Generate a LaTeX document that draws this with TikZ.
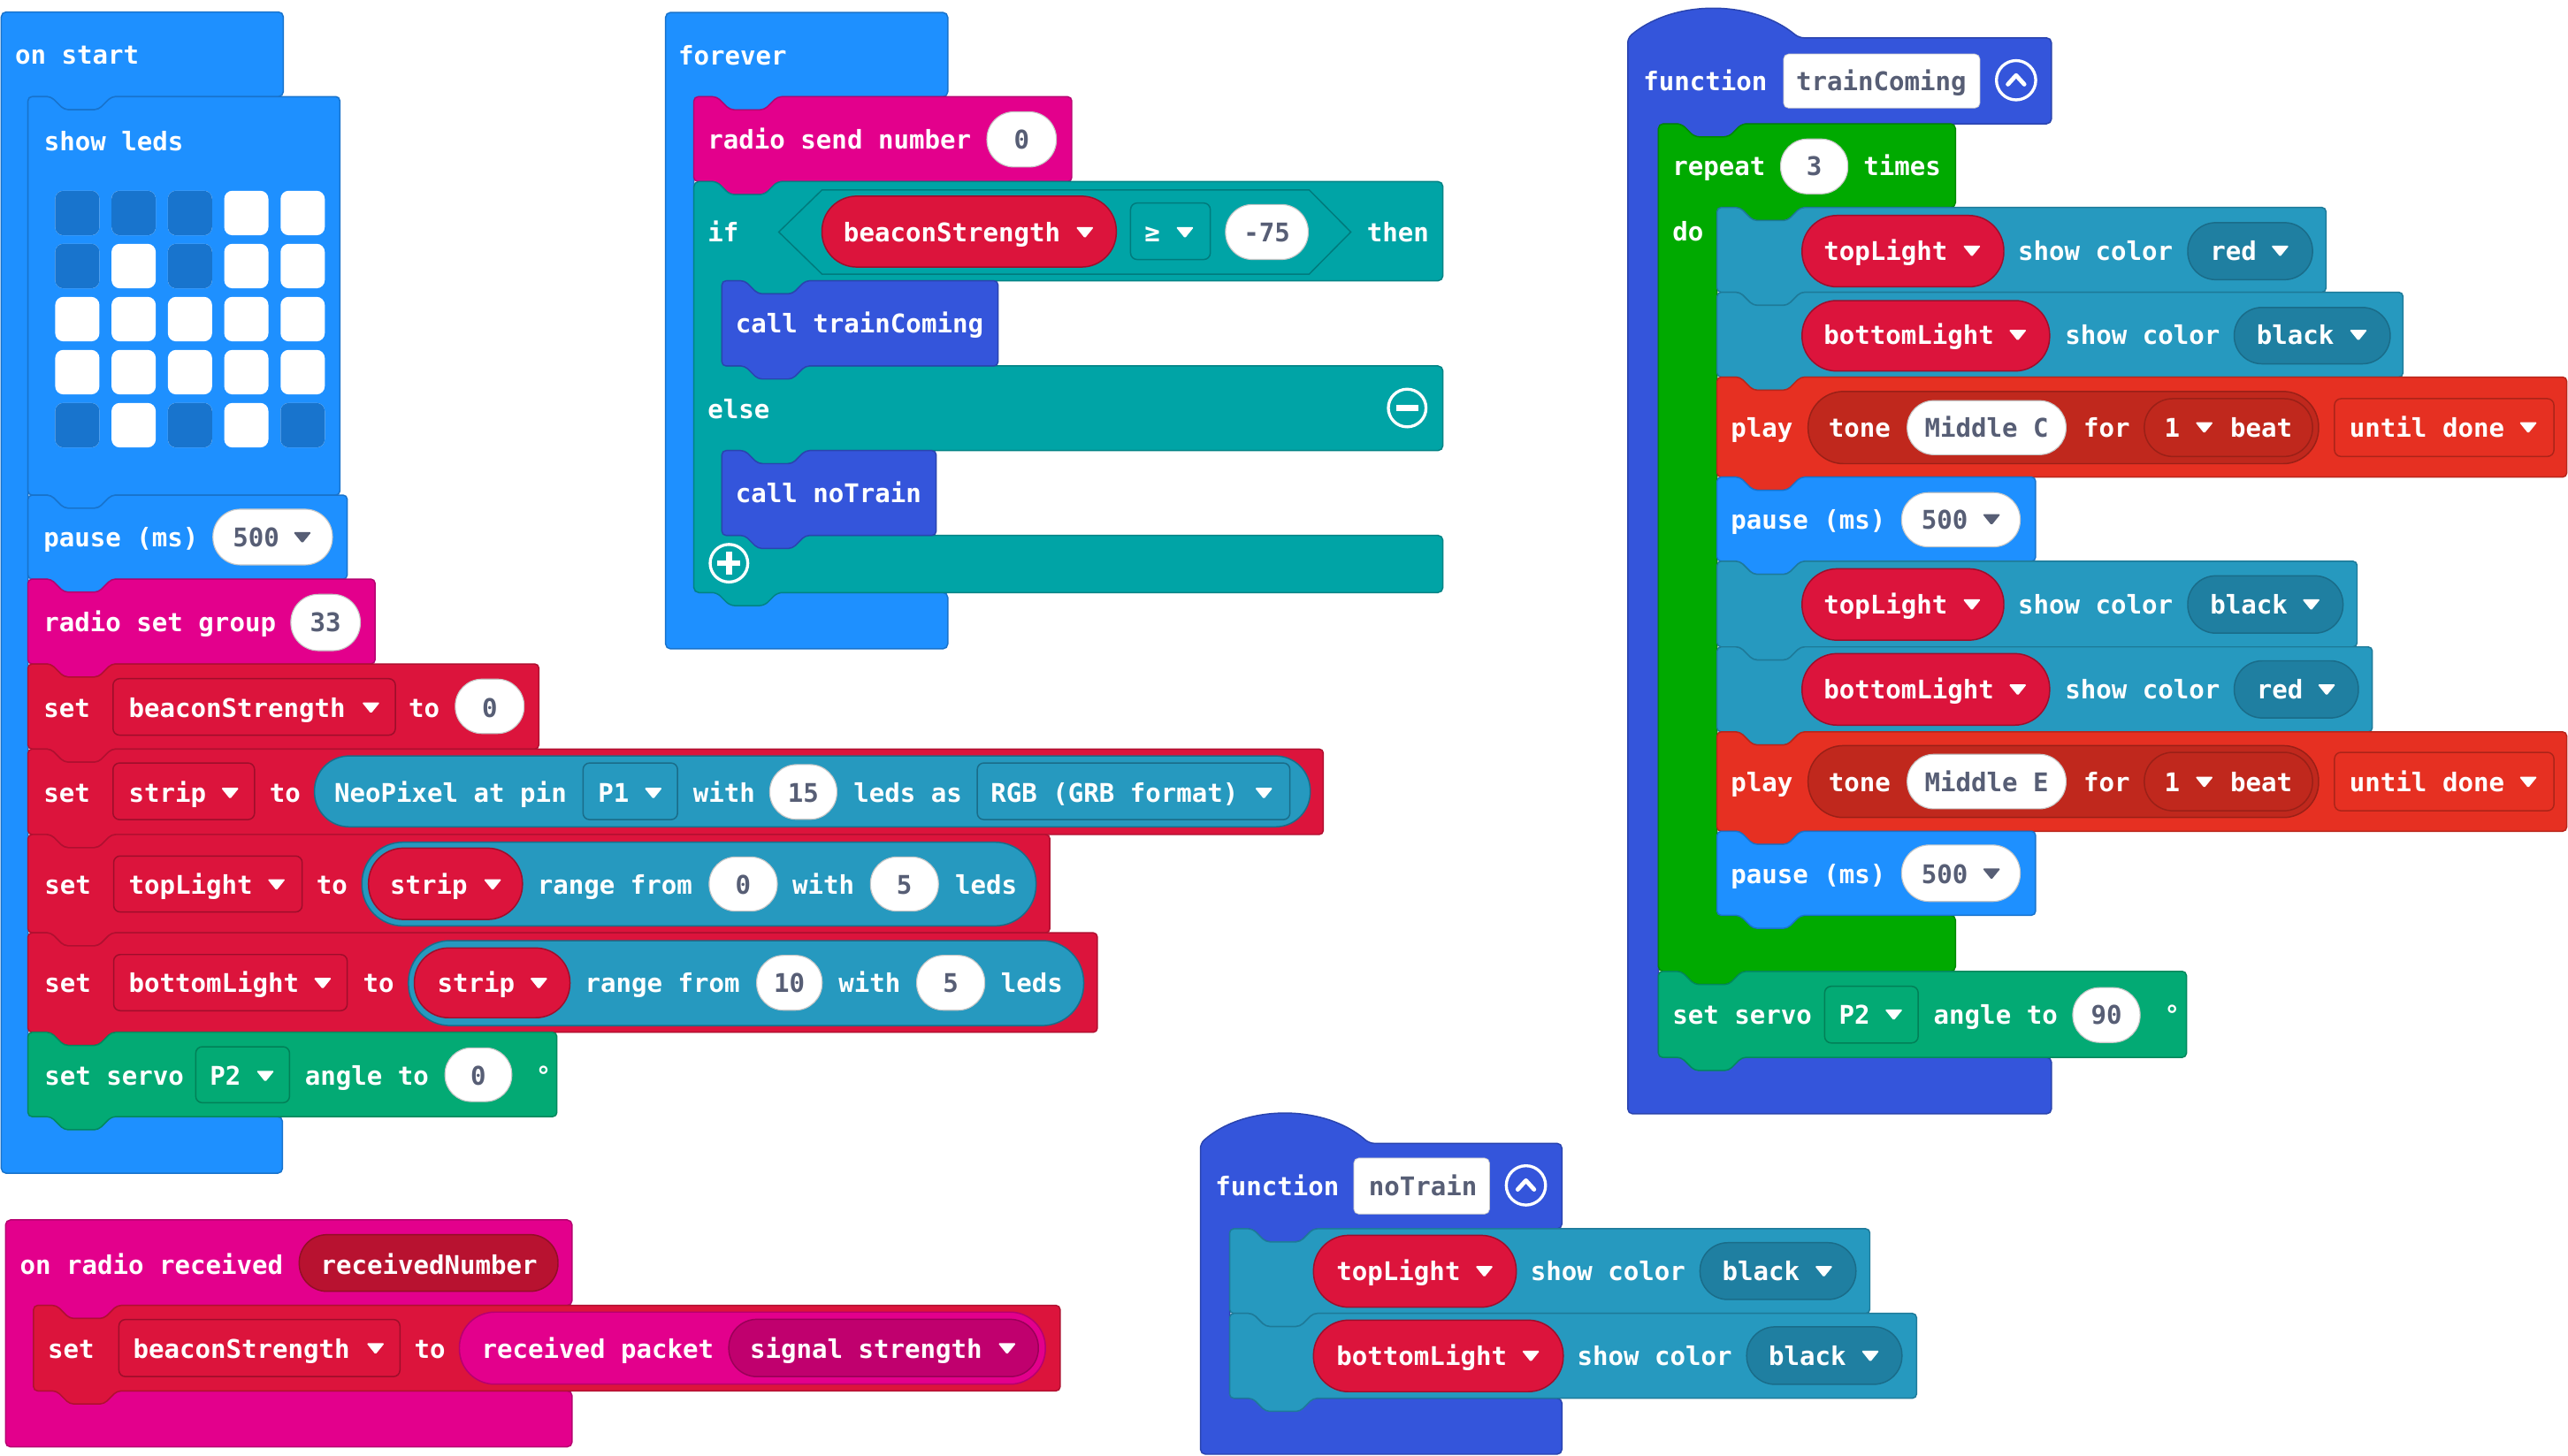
\documentclass[tikz,border=0pt]{standalone}
\usepackage{fontspec}
\setmonofont{DejaVu Sans Mono}
\definecolor{cBasic}{HTML}{1E90FF}
\definecolor{cLed}{HTML}{1874CD}
\definecolor{cRadio}{HTML}{E3008C}
\definecolor{cVar}{HTML}{DC143C}
\definecolor{cLogic}{HTML}{00A4A6}
\definecolor{cFunc}{HTML}{3455DB}
\definecolor{cLoop}{HTML}{00AA00}
\definecolor{cPins}{HTML}{03AA74}
\definecolor{cNeo}{HTML}{2699BF}
\definecolor{cNeoD}{HTML}{1F7FA1}
\definecolor{cMusic}{HTML}{E63022}
\definecolor{cMusicD}{HTML}{C0281D}
\definecolor{cRecv}{HTML}{B81230}
\definecolor{cSig}{HTML}{C0006E}
\definecolor{cGray}{HTML}{575E75}
\newcounter{nd}
\newcommand\wtx[3]{\stepcounter{nd}\node[txt] (n\arabic{nd}) at (#1,#2) {#3};}
\newcommand\gtx[3]{\stepcounter{nd}\node[txt,text=cGray] (n\arabic{nd}) at (#1,#2) {#3};}
\newcommand\gcx[3]{\stepcounter{nd}\node[txt,text=cGray,anchor=center] (n\arabic{nd}) at (#1,#2) {#3};}
\newcommand\wcx[3]{\stepcounter{nd}\node[txt,anchor=center] (n\arabic{nd}) at (#1,#2) {#3};}
% statement block with notch and tab
\newcommand\stm[5]{\path[#5, rounded corners=2.5pt] (#1,#2) -- ({#1+14},#2) -- ({#1+22},{#2+8}) -- ({#1+43},{#2+8}) -- ({#1+51},#2) -- (#3,#2) -- (#3,#4) -- ({#1+51},#4) -- ({#1+43},{#4+8}) -- ({#1+22},{#4+8}) -- ({#1+14},#4) -- (#1,#4) -- cycle;}
% hat C block, flat top
\newcommand\hatc[9]{\path[#9, rounded corners=3pt] (#1,#2) -- (#3,#2) -- (#3,#4) -- ({#5+51},#4) -- ({#5+43},{#4+8}) -- ({#5+22},{#4+8}) -- ({#5+14},#4) -- (#5,#4) -- (#5,#6) -- (#7,#6) -- (#7,#8) -- (#1,#8) -- cycle;}
\newcommand\pil[5]{\pgfmathsetmacro\pr{0.49*(#4-#2)}\path[#5, rounded corners=\pr pt] (#1,#2) rectangle (#3,#4);}
\newcommand\rct[5]{\path[#5, rounded corners=4pt] (#1,#2) rectangle (#3,#4);}
\newcommand\tri[3]{\fill[#3, rounded corners=0.8pt] ({#1-5.5},{#2-3}) -- ({#1+5.5},{#2-3}) -- (#1,{#2+3.8}) -- cycle;}
\begin{document}
\begin{tikzpicture}[x=1pt,y=-1pt,
  txt/.style={font=\ttfamily\bfseries\fontsize{15.7}{18}\selectfont, text=white, inner sep=0pt, anchor=west, text height=12.5pt, text depth=0.5pt},
  bBasic/.style={fill=cBasic, draw=cBasic!80!black, line width=0.8pt},
  bRadio/.style={fill=cRadio, draw=cRadio!80!black, line width=0.8pt},
  bVar/.style={fill=cVar, draw=cVar!80!black, line width=0.8pt},
  bLogic/.style={fill=cLogic, draw=cLogic!80!black, line width=0.8pt},
  bFunc/.style={fill=cFunc, draw=cFunc!80!black, line width=0.8pt},
  bLoop/.style={fill=cLoop, draw=cLoop!80!black, line width=0.8pt},
  bPins/.style={fill=cPins, draw=cPins!80!black, line width=0.8pt},
  bNeo/.style={fill=cNeo, draw=cNeo!80!black, line width=0.8pt},
  bMusic/.style={fill=cMusic, draw=cMusic!80!black, line width=0.8pt},
  fW/.style={fill=white, draw=black!22, line width=0.6pt},
  dVar/.style={fill=cVar, draw=cVar!72!black, line width=0.8pt},
  dNeo/.style={fill=cNeo, draw=cNeoD!85!black, line width=0.8pt},
  dNeoD/.style={fill=cNeoD, draw=cNeoD!85!black, line width=0.8pt},
  dPins/.style={fill=cPins, draw=cPins!75!black, line width=0.8pt},
  dLogic/.style={fill=cLogic, draw=cLogic!75!black, line width=0.8pt},
  dMusic/.style={fill=cMusic, draw=cMusic!75!black, line width=0.8pt},
  dMusicD/.style={fill=cMusicD, draw=cMusicD!80!black, line width=0.8pt},
  dRadio/.style={fill=cRadio, draw=cRadio!80!black, line width=0.8pt},
  dRecv/.style={fill=cRecv, draw=cRecv!80!black, line width=0.8pt},
  dSig/.style={fill=cSig, draw=cSig!80!black, line width=0.8pt},
  icon/.style={draw=white, line width=1.8pt}]
\useasboundingbox (0,0) rectangle (1568,889);
\fill[white] (0,0) rectangle (1568,889);

%%%%%%%% on start
\hatc{0.8}{7.3}{173}{59}{17.1}{682}{172.5}{716.6}{bBasic}
\wtx{9}{33}{on start}
\stm{17.1}{59}{207.5}{302.4}{bBasic}
\wtx{26.7}{85.8}{show leds}
\foreach \c in {0,...,4}{\foreach \r in {0,...,4}{\fill[white, rounded corners=5pt] ({33.7+34.4*\c},{116.5+32.4*\r}) rectangle ++(27,27.2);}}
\foreach \c/\r in {0/0,1/0,2/0,0/1,2/1,0/4,2/4,4/4}{\fill[cLed, rounded corners=5pt] ({33.7+34.4*\c},{116.5+32.4*\r}) rectangle ++(27,27.2);}
% pause
\stm{17.1}{302.4}{212}{353.7}{bBasic}
\wtx{26.5}{328}{pause (ms)}
\pil{130}{311}{203}{345}{fW}
\gtx{142}{328}{500}
\tri{184.6}{328}{cGray}
% radio set group
\stm{17.1}{353.7}{229}{405.5}{bRadio}
\wtx{26.5}{380}{radio set group}
\pil{177.6}{363}{220}{397.4}{fW}
\gcx{198.8}{380}{33}
% set beaconStrength
\stm{17.1}{405.5}{329}{457.5}{bVar}
\wtx{26.5}{432}{set}
\rct{69}{414.5}{241.4}{449}{dVar}
\wtx{78.4}{432}{beaconStrength}
\tri{226.5}{432}{white}
\wtx{249.3}{432}{to}
\pil{278}{414.8}{320}{448}{fW}
\gcx{299}{432}{0}
% set strip
\stm{17.1}{457.5}{808}{509.7}{bVar}
\wtx{26.5}{484.2}{set}
\rct{69}{466}{155.4}{500.6}{dVar}
\wtx{78.4}{484.2}{strip}
\tri{140.5}{484.2}{white}
\wtx{164.4}{484.2}{to}
\pil{192}{461.7}{800}{505}{dNeo}
\wtx{204}{484.2}{NeoPixel at pin}
\rct{356}{466}{413.7}{500.6}{dNeo}
\wtx{365}{484.2}{P1}
\tri{398.9}{484.2}{white}
\wtx{423}{484.2}{with}
\pil{470}{467}{511}{500.4}{fW}
\gcx{490.5}{484.2}{15}
\wtx{521}{484.2}{leds as}
\rct{596.7}{466}{787.6}{500.6}{dNeo}
\wtx{604.7}{484.2}{RGB (GRB format)}
\tri{771.7}{484.2}{white}
% set topLight
\stm{17.1}{509.7}{641}{569.7}{bVar}
\wtx{27}{540}{set}
\rct{69.4}{522.8}{184.5}{557}{dVar}
\wtx{78.4}{540}{topLight}
\tri{168.8}{540}{white}
\wtx{193}{540}{to}
\pil{221}{514.4}{632.6}{565.5}{dNeo}
\pil{225}{518}{319}{561.6}{dVar}
\wtx{238}{540}{strip}
\tri{300.8}{540}{white}
\wtx{328}{540}{range from}
\pil{433}{523.4}{474.6}{556.5}{fW}
\gcx{453.8}{540}{0}
\wtx{483.6}{540}{with}
\pil{531.5}{523.4}{573}{556.5}{fW}
\gcx{552.2}{540}{5}
\wtx{583}{540}{leds}
% set bottomLight
\stm{17.1}{569.7}{670}{630.5}{bVar}
\wtx{27}{600.3}{set}
\rct{69.4}{583}{212}{617.3}{dVar}
\wtx{78.4}{600.3}{bottomLight}
\tri{197}{600.3}{white}
\wtx{221.5}{600.3}{to}
\pil{249.4}{574.5}{661.7}{626.4}{dNeo}
\pil{253}{579}{348}{621.6}{dVar}
\wtx{266.8}{600.3}{strip}
\tri{329}{600.3}{white}
\wtx{357}{600.3}{range from}
\pil{462}{583.5}{502}{617}{fW}
\gcx{482}{600.3}{10}
\wtx{511.8}{600.3}{with}
\pil{559.7}{583.5}{601.3}{617}{fW}
\gcx{580.5}{600.3}{5}
\wtx{611}{600.3}{leds}
% set servo
\stm{17.1}{630.5}{340}{682}{bPins}
\wtx{27}{657}{set servo}
\rct{119.5}{639.3}{176.8}{673.5}{dPins}
\wtx{128}{657}{P2}
\tri{162}{657}{white}
\wtx{186}{657}{angle to}
\pil{271.7}{640}{312.5}{672.8}{fW}
\gcx{292.1}{657}{0}
\wtx{326.9}{657}{°}

%%%%%%%% forever
\hatc{406.4}{7.6}{578.7}{59.1}{423.7}{361.9}{578.7}{396.3}{bBasic}
\wtx{414}{33.9}{forever}
\stm{423.7}{59.1}{654.4}{110.9}{bRadio}
\wtx{432}{85}{radio send number}
\pil{602.6}{68.3}{645}{102}{fW}
\gcx{623.8}{85}{0}
% if / else
\path[bLogic, rounded corners=3pt] (423.7,110.9) -- (437.7,110.9) -- (445.7,118.9) -- (466.7,118.9) -- (474.7,110.9) -- (881,110.9) -- (881,171.5) -- (491.8,171.5) -- (483.8,179.5) -- (462.8,179.5) -- (454.8,171.5) -- (440.8,171.5) -- (440.8,223.5) -- (881,223.5) -- (881,275.2) -- (491.8,275.2) -- (483.8,283.2) -- (462.8,283.2) -- (454.8,275.2) -- (440.8,275.2) -- (440.8,327) -- (881,327) -- (881,361.9) -- (474.7,361.9) -- (466.7,369.9) -- (445.7,369.9) -- (437.7,361.9) -- (423.7,361.9) -- cycle;
\wtx{432}{141.7}{if}
\path[dLogic] (475.5,141.7) -- (501.9,116) -- (799.4,116) -- (824.8,141.7) -- (799.4,167.4) -- (501.9,167.4) -- cycle;
\pil{501.9}{119.8}{681.6}{163.1}{dVar}
\wtx{514.9}{141.7}{beaconStrength}
\tri{662.4}{141.7}{white}
\rct{690.3}{124}{739}{158.5}{dLogic}
\wcx{703.6}{141.7}{≥}
\tri{723.5}{141.7}{white}
\pil{748.3}{124.9}{798.8}{158.5}{fW}
\gcx{773.5}{141.7}{-75}
\wtx{834.5}{141.7}{then}
\stm{440.8}{171.5}{609.4}{223.5}{bFunc}
\wtx{449}{197.5}{call trainComing}
\wtx{432}{249.5}{else}
\draw[icon] (859.2,249.2) circle (11.5);
\draw[white, line width=3.6pt] (852.4,249.2) -- (866,249.2);
\stm{440.8}{275.2}{571.6}{327}{bFunc}
\wtx{449}{301.1}{call noTrain}
\draw[icon] (445.1,344) circle (11.5);
\draw[white, line width=3.4pt] (445.1,337) -- (445.1,351) (438.1,344) -- (452.1,344);

%%%%%%%% function trainComing
\path[bFunc, rounded corners=3pt] (993.9,23.1) .. controls (1022,-0.4) and (1070,-0.4) .. (1098.4,23.1) -- (1252.6,23.1) -- (1252.6,75.6) -- (1063.6,75.6) -- (1055.6,83.6) -- (1034.6,83.6) -- (1026.6,75.6) -- (1012.6,75.6) -- (1012.6,645.8) -- (1252.6,645.8) -- (1252.6,680.3) -- (993.9,680.3) -- cycle;
\wtx{1003.2}{49.6}{function}
\path[fill=white, draw=black!22, rounded corners=3pt] (1089,33) rectangle (1208.9,66);
\gtx{1096.5}{49.6}{trainComing}
\draw[icon] (1231,49) circle (12);
\draw[white, line width=2.6pt, line cap=round, line join=round] (1226,51.5) -- (1231,46) -- (1236,51.5);
% repeat
\path[bLoop, rounded corners=3pt] (1012.6,75.6) -- (1026.6,75.6) -- (1034.6,83.6) -- (1055.6,83.6) -- (1063.6,75.6) -- (1194,75.6) -- (1194,126.7) -- (1099.4,126.7) -- (1091.4,134.7) -- (1070.4,134.7) -- (1062.4,126.7) -- (1048.4,126.7) -- (1048.4,559) -- (1194,559) -- (1194,593.3) -- (1063.6,593.3) -- (1055.6,601.3) -- (1034.6,601.3) -- (1026.6,593.3) -- (1012.6,593.3) -- cycle;
\wtx{1021}{101.2}{repeat}
\pil{1087.2}{84.9}{1128.3}{118.4}{fW}
\gcx{1107.7}{101.2}{3}
\wtx{1137.6}{101.2}{times}
\wtx{1021}{141}{do}
% topLight red
\stm{1048.4}{126.7}{1420.2}{178.5}{bNeo}
\pil{1100.3}{131.6}{1223.5}{175.2}{dVar}
\wtx{1113.3}{153}{topLight}
\tri{1204}{153}{white}
\wtx{1232}{153}{show color}
\pil{1335.8}{136}{1412}{170.8}{dNeoD}
\wtx{1349.3}{153}{red}
\tri{1392.2}{153}{white}
% bottomLight black
\stm{1048.4}{178.5}{1467.2}{230.3}{bNeo}
\pil{1100.3}{183.6}{1251.5}{226.6}{dVar}
\wtx{1113.3}{204.4}{bottomLight}
\tri{1232}{204.4}{white}
\wtx{1260.8}{204.4}{show color}
\pil{1364.2}{187.8}{1459.4}{222.2}{dNeoD}
\wtx{1377.6}{204.4}{black}
\tri{1440}{204.4}{white}
% play C
\stm{1048.4}{230.3}{1567.2}{291.4}{bMusic}
\wtx{1056.6}{260.9}{play}
\pil{1104}{239.1}{1415.7}{283.2}{dMusicD}
\wtx{1116.3}{260.9}{tone}
\pil{1164.5}{244.7}{1261.5}{277.7}{fW}
\gtx{1175}{260.9}{Middle C}
\wtx{1272}{260.9}{for}
\pil{1309.3}{243.5}{1412}{278.8}{dMusicD}
\wtx{1321.3}{260.9}{1}
\tri{1345.9}{260.9}{white}
\wtx{1361.6}{260.9}{beat}
\rct{1425.4}{243.5}{1559.4}{278.8}{dMusic}
\wtx{1434.4}{260.9}{until done}
\tri{1543.7}{260.9}{white}
% pause
\stm{1048.4}{291.4}{1242.9}{342.8}{bBasic}
\wtx{1056.6}{317}{pause (ms)}
\pil{1161.1}{300.9}{1233.5}{334}{fW}
\gtx{1173}{317}{500}
\tri{1216}{317}{cGray}
% topLight black
\stm{1048.4}{342.8}{1439.2}{395.1}{bNeo}
\pil{1100.3}{347.4}{1223.5}{391}{dVar}
\wtx{1113.3}{369}{topLight}
\tri{1204}{369}{white}
\wtx{1232}{369}{show color}
\pil{1335.8}{351.7}{1430.6}{386.7}{dNeoD}
\wtx{1349.3}{369}{black}
\tri{1411.2}{369}{white}
% bottomLight red
\stm{1048.4}{395.1}{1448.5}{447}{bNeo}
\pil{1100.3}{399.2}{1251.5}{442.9}{dVar}
\wtx{1113.3}{421}{bottomLight}
\tri{1232}{421}{white}
\wtx{1260.8}{421}{show color}
\pil{1364.2}{403.6}{1440}{438.5}{dNeoD}
\wtx{1377.6}{421}{red}
\tri{1420.6}{421}{white}
% play E
\stm{1048.4}{447}{1567.2}{507.7}{bMusic}
\wtx{1056.6}{477.4}{play}
\pil{1104}{455.4}{1415.7}{499.3}{dMusicD}
\wtx{1116.3}{477.4}{tone}
\pil{1164.5}{460.7}{1261.5}{494}{fW}
\gtx{1175}{477.4}{Middle E}
\wtx{1272}{477.4}{for}
\pil{1309.3}{459.5}{1412}{495.2}{dMusicD}
\wtx{1321.3}{477.4}{1}
\tri{1345.9}{477.4}{white}
\wtx{1361.6}{477.4}{beat}
\rct{1425.4}{459.5}{1559.4}{495.2}{dMusic}
\wtx{1434.4}{477.4}{until done}
\tri{1543.7}{477.4}{white}
% pause
\stm{1048.4}{507.7}{1242.9}{559}{bBasic}
\wtx{1056.6}{533.4}{pause (ms)}
\pil{1161.1}{516.1}{1233.5}{550.6}{fW}
\gtx{1173}{533.4}{500}
\tri{1216}{533.4}{cGray}
% set servo 90
\stm{1012.6}{593.3}{1335}{645.8}{bPins}
\wtx{1021}{619.5}{set servo}
\rct{1114.1}{602.4}{1171.2}{637}{dPins}
\wtx{1122.7}{619.5}{P2}
\tri{1156.3}{619.5}{white}
\wtx{1180.5}{619.5}{angle to}
\pil{1265.6}{603.2}{1306.7}{636.7}{fW}
\gcx{1286.2}{619.5}{90}
\wtx{1321.3}{619.5}{°}

%%%%%%%% function noTrain
\path[bFunc, rounded corners=3pt] (733,698.3) .. controls (760,674.3) and (809,674.3) .. (836,698.3) -- (953.7,698.3) -- (953.7,750.5) -- (801.8,750.5) -- (793.8,758.5) -- (772.8,758.5) -- (764.8,750.5) -- (750.8,750.5) -- (750.8,854) -- (953.7,854) -- (953.7,888.2) -- (733,888.2) -- cycle;
\wtx{741.9}{724.4}{function}
\path[fill=white, draw=black!22, rounded corners=3pt] (826.6,707.3) rectangle (909.5,741.5);
\gtx{835.5}{724.4}{noTrain}
\draw[icon] (931.7,724) circle (12);
\draw[white, line width=2.6pt, line cap=round, line join=round] (926.7,726.5) -- (931.7,721) -- (936.7,726.5);
\stm{750.8}{750.5}{1141.7}{802.2}{bNeo}
\pil{802}{754.5}{925.8}{798.4}{dVar}
\wtx{815.9}{776.3}{topLight}
\tri{906.3}{776.3}{white}
\wtx{934.4}{776.3}{show color}
\pil{1038}{759}{1133.2}{793.7}{dNeoD}
\wtx{1051.4}{776.3}{black}
\tri{1113.6}{776.3}{white}
\stm{750.8}{802.2}{1170.2}{854}{bNeo}
\pil{802}{806.3}{954.5}{850}{dVar}
\wtx{815.9}{828}{bottomLight}
\tri{934.7}{828}{white}
\wtx{962.8}{828}{show color}
\pil{1066.5}{810.4}{1161.3}{845.5}{dNeoD}
\wtx{1079.8}{828}{black}
\tri{1142}{828}{white}

%%%%%%%% on radio received
\hatc{3.4}{745.1}{349.3}{797.3}{20.5}{849.5}{349.3}{883.7}{bRadio}
\wtx{12}{772.1}{on radio received}
\pil{182.7}{754.1}{340.7}{788.7}{dRecv}
\wtx{195.6}{772.1}{receivedNumber}
\stm{20.5}{797.3}{647.3}{849.5}{bVar}
\wtx{29}{823.4}{set}
\rct{72.6}{805.9}{244.2}{840.8}{dVar}
\wtx{81.1}{823.4}{beaconStrength}
\tri{229.3}{823.4}{white}
\wtx{252.8}{823.4}{to}
\pil{280.5}{801.4}{638.3}{845.4}{dRadio}
\wtx{293.8}{823.4}{received packet}
\pil{445}{805.8}{634}{840.8}{dSig}
\wtx{457.7}{823.4}{signal strength}
\tri{614.9}{823.4}{white}
\end{tikzpicture}
\end{document}
